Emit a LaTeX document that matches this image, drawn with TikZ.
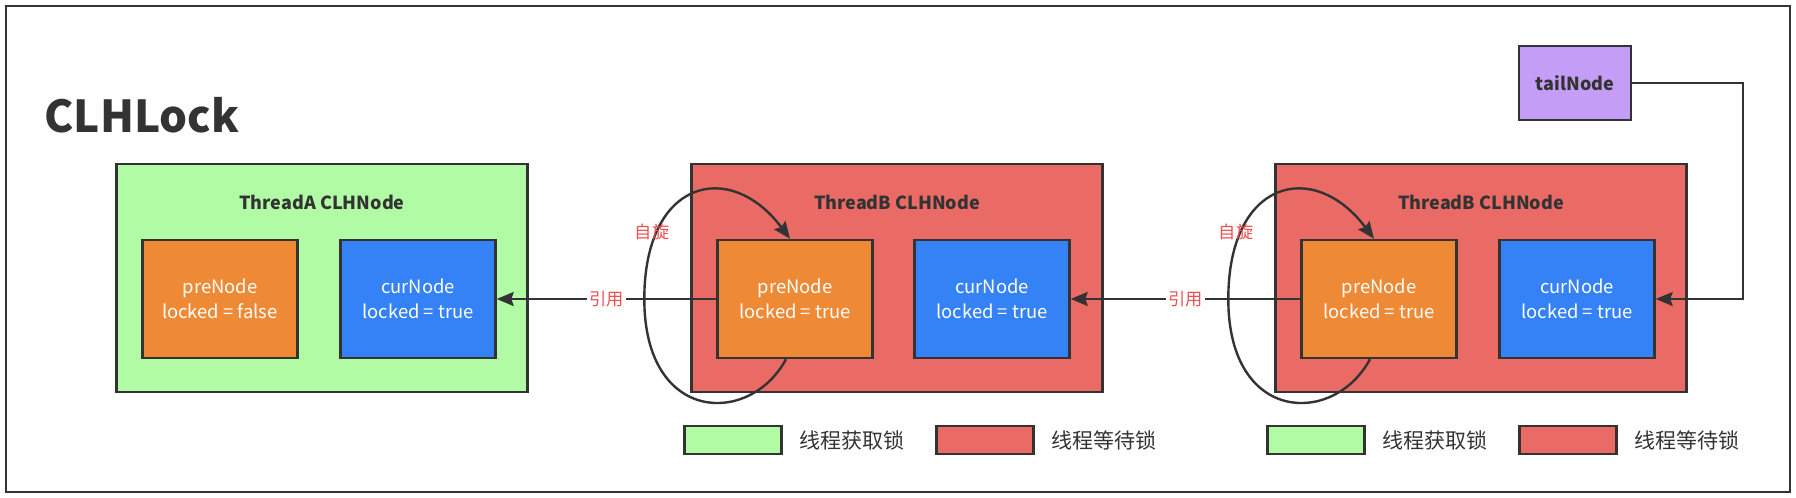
\documentclass[tikz,border=0pt]{standalone}
\usepackage{fontspec}
\setmainfont{Noto Sans CJK SC}
\usetikzlibrary{positioning}
\usetikzlibrary{arrows.meta}

\definecolor{linegray}{HTML}{333333}
\definecolor{lockgreen}{HTML}{B2FBA5}
\definecolor{waitred}{HTML}{EA6B66}
\definecolor{preorange}{HTML}{EE8A36}
\definecolor{curblue}{HTML}{3482F6}
\definecolor{tailpurple}{HTML}{C49DF6}
\definecolor{notered}{HTML}{EE4F4F}

\begin{document}
\begin{tikzpicture}[x=0.5pt,y=-0.5pt,
    thread/.style={draw=linegray,line width=1.2pt,minimum width=205.5pt,minimum height=114pt,inner sep=0pt},
    threadtitle/.style={text=linegray,font=\bfseries\fontsize{9}{11}\selectfont,inner sep=0pt},
    field/.style={draw=linegray,line width=1.2pt,minimum width=77.5pt,minimum height=59pt,inner sep=0pt,
        text=white,align=center,font=\fontsize{9.2}{12.5}\selectfont},
    link/.style={draw=linegray,line width=1.2pt,-{Stealth[length=8.5pt,width=7pt,inset=1.2pt]}},
    note/.style={text=notered,font=\fontsize{8.6}{10}\selectfont,inner sep=1pt},
    keybox/.style={draw=linegray,line width=1.2pt,minimum width=48.5pt,minimum height=14pt,inner sep=0pt},
    keytext/.style={text=linegray,font=\fontsize{10.5}{12}\selectfont,inner sep=0pt,anchor=west}]
    \useasboundingbox (0,0) rectangle (1796,498);
    \draw[draw=linegray,line width=1.3pt] (6,6) rectangle (1790,492);

    \node[anchor=west,text=linegray,inner sep=0pt,font=\bfseries\fontsize{22}{26}\selectfont] (title) at (44,115) {CLHLock};

    % thread A
    \node[thread,fill=lockgreen] (threadA) at (322,278) {};
    \node[threadtitle] (titleA) at ([yshift=-20pt]threadA.north) {ThreadA CLHNode};
    \node[field,fill=preorange] (preA) at (220,299) {preNode\\locked = false};
    \node[field,fill=curblue] (curA) at (418,299) {curNode\\locked = true};

    % thread B, first
    \node[thread,fill=waitred] (threadB1) at (897,278) {};
    \node[threadtitle] (titleB1) at ([yshift=-20pt]threadB1.north) {ThreadB CLHNode};
    \node[field,fill=preorange] (preB1) at (795,299) {preNode\\locked = true};
    \node[field,fill=curblue] (curB1) at (992,299) {curNode\\locked = true};

    % thread B, second
    \node[thread,fill=waitred] (threadB2) at (1481,278) {};
    \node[threadtitle] (titleB2) at ([yshift=-20pt]threadB2.north) {ThreadB CLHNode};
    \node[field,fill=preorange] (preB2) at (1379,299) {preNode\\locked = true};
    \node[field,fill=curblue] (curB2) at (1577,299) {curNode\\locked = true};

    \node[draw=linegray,line width=1.2pt,fill=tailpurple,minimum width=56pt,minimum height=37pt,inner sep=0pt,
        text=linegray,font=\bfseries\fontsize{9}{11}\selectfont] (tail) at (1575,83) {tailNode};

    % references
    \draw[link] (preB1) -- node[note,fill=white] (refB1) {引用} (curA);
    \draw[link] (preB2) -- node[note,fill=white] (refB2) {引用} (curB1);
    \coordinate (tailbend) at ([xshift=55.5pt]tail.east);
    \draw[link] (tail) -- (tailbend) |- (curB2);

    % spinning
    \coordinate (spinB1) at ([xshift=-36pt]preB1.west);
    \draw[link] ([xshift=-4.5pt]preB1.south) .. controls +(-36,67) and +(0,125) .. (spinB1)
        .. controls +(0,-120) and +(-60,-80) .. ([xshift=-2.5pt]preB1.north);
    \node[note] (spinlabelB1) at (652,232) {自旋};
    \coordinate (spinB2) at ([xshift=-36pt]preB2.west);
    \draw[link] ([xshift=-4.5pt]preB2.south) .. controls +(-36,67) and +(0,125) .. (spinB2)
        .. controls +(0,-120) and +(-60,-80) .. ([xshift=-2.5pt]preB2.north);
    \node[note] (spinlabelB2) at (1236,232) {自旋};

    % legend
    \node[keybox,fill=lockgreen] (keyA1) at (733,440) {};
    \node[keytext,right=8pt of keyA1] (keytextA1) {线程获取锁};
    \node[keybox,fill=waitred] (keyW1) at (985,440) {};
    \node[keytext,right=8pt of keyW1] (keytextW1) {线程等待锁};
    \node[keybox,fill=lockgreen] (keyA2) at (1316,440) {};
    \node[keytext,right=8pt of keyA2] (keytextA2) {线程获取锁};
    \node[keybox,fill=waitred] (keyW2) at (1568,440) {};
    \node[keytext,right=8pt of keyW2] (keytextW2) {线程等待锁};
\end{tikzpicture}
\end{document}
